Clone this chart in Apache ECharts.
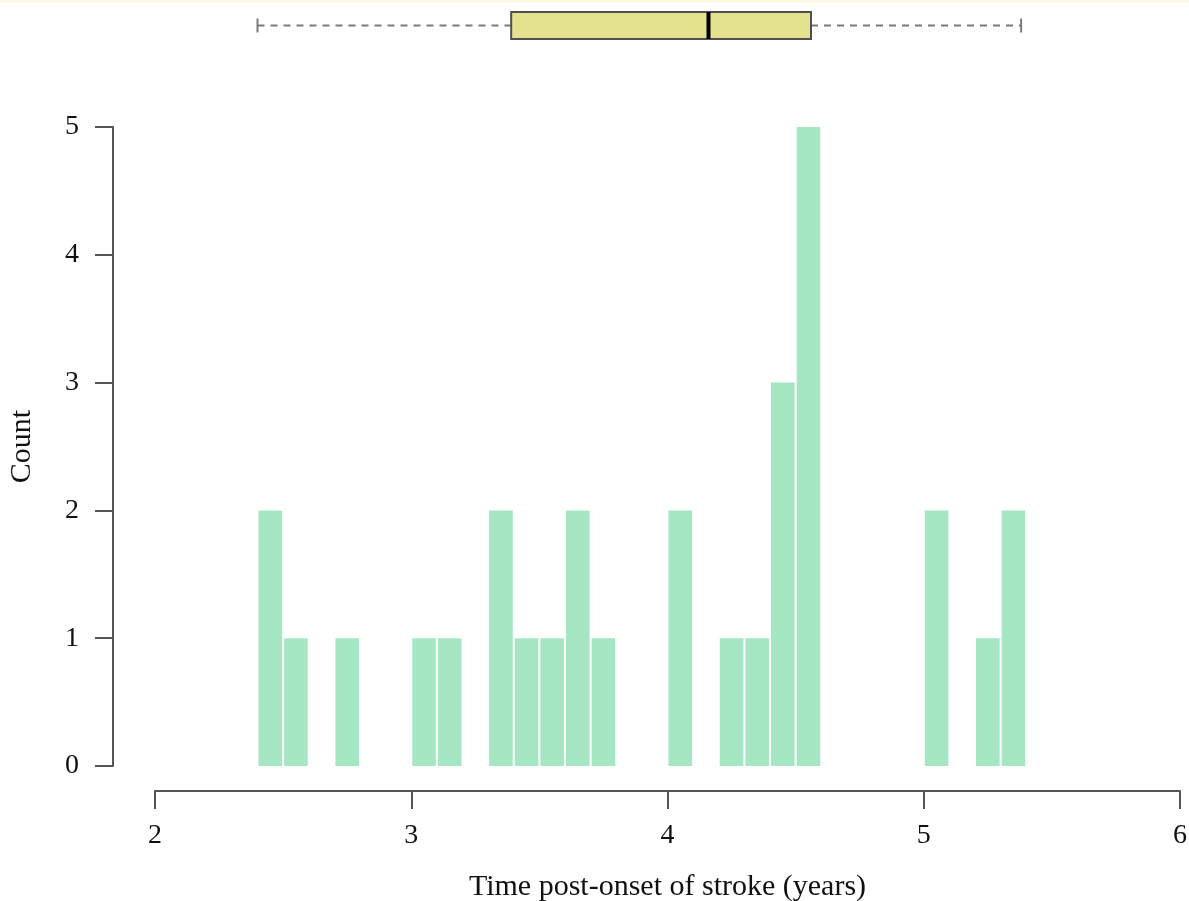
<!DOCTYPE html>
<html>
<head>
<meta charset="utf-8">
<script src="https://cdn.jsdelivr.net/npm/echarts@6/dist/echarts.min.js"></script>
<style>
html,body{margin:0;padding:0;background:#fff;}
#chart{width:1189px;height:901px;}
</style>
</head>
<body>
<div id="chart"></div>
<script>
// Histogram bins (lower edge, width 0.1 years) and counts
var binLow = [2.4, 2.5, 2.6, 2.7, 2.8, 2.9, 3.0, 3.1, 3.2, 3.3, 3.4, 3.5, 3.6, 3.7, 3.8, 3.9, 4.0, 4.1, 4.2, 4.3, 4.4, 4.5, 4.6, 4.7, 4.8, 4.9, 5.0, 5.1, 5.2, 5.3];
var counts = [2, 1, 0, 1, 0, 0, 1, 1, 0, 2, 1, 1, 2, 1, 0, 0, 2, 0, 1, 1, 3, 5, 0, 0, 0, 0, 2, 0, 1, 2];
var binWidth = 0.1;
// Box plot summary: lower whisker, Q1, median, Q3, upper whisker
var boxStats = [2.40, 3.39, 4.16, 4.56, 5.38];
var xTicks = [2, 3, 4, 5, 6];
var yTicks = [0, 1, 2, 3, 4, 5];

var font = '"Liberation Serif", "Times New Roman", serif';
var axisCol = '#555555';

var histData = binLow.map(function (b, i) { return [b, b + binWidth, counts[i]]; });

var chart = echarts.init(document.getElementById('chart'));
chart.setOption({
  animation: false,
  backgroundColor: '#ffffff',
  graphic: [{
    type: 'rect', left: 0, top: 0, shape: { x: 0, y: 0, width: 1189, height: 3 },
    style: { fill: '#fdf7e3' }, silent: true
  }],
  grid: [
    { left: 155, right: 9, top: 127, bottom: 135, containLabel: false, outerBoundsMode: 'none' },
    { left: 155, right: 9, top: 12, height: 27, containLabel: false, outerBoundsMode: 'none' }
  ],
  xAxis: [{
    gridIndex: 0, type: 'value', min: xTicks[0], max: xTicks[xTicks.length - 1], interval: 1,
    offset: 25,
    axisLine: { show: true, onZero: false, lineStyle: { color: axisCol, width: 2 } },
    axisTick: { show: true, length: 18, lineStyle: { color: axisCol, width: 2 } },
    axisLabel: { color: '#111', fontFamily: font, fontSize: 28, margin: 31 },
    splitLine: { show: false },
    name: 'Time post-onset of stroke (years)', nameLocation: 'middle', nameGap: 81,
    nameTextStyle: { color: '#111', fontFamily: font, fontSize: 30 }
  }, {
    gridIndex: 1, type: 'value', min: xTicks[0], max: xTicks[xTicks.length - 1],
    show: false
  }],
  yAxis: [{
    gridIndex: 0, type: 'value', min: yTicks[0], max: yTicks[yTicks.length - 1], interval: 1,
    offset: 42,
    axisLine: { show: true, onZero: false, lineStyle: { color: axisCol, width: 2 } },
    axisTick: { show: true, length: 18, lineStyle: { color: axisCol, width: 2 } },
    axisLabel: { color: '#111', fontFamily: font, fontSize: 28, margin: 34 },
    splitLine: { show: false },
    name: 'Count', nameLocation: 'middle', nameGap: 76,
    nameTextStyle: { color: '#111', fontFamily: font, fontSize: 30 }
  }, {
    gridIndex: 1, type: 'value', min: 0, max: 1, show: false
  }],
  series: [{
    type: 'custom',
    xAxisIndex: 0, yAxisIndex: 0,
    data: histData,
    renderItem: function (params, api) {
      var c = api.value(2);
      if (!c) return null;
      var p0 = api.coord([api.value(0), 0]);
      var p1 = api.coord([api.value(1), c]);
      return {
        type: 'rect',
        shape: { x: p0[0] + 1, y: p1[1], width: p1[0] - p0[0] - 2, height: p0[1] - p1[1] },
        style: { fill: '#a5e6c3' }
      };
    }
  }, {
    type: 'custom',
    xAxisIndex: 1, yAxisIndex: 1,
    data: [boxStats],
    renderItem: function (params, api) {
      var lo = api.coord([api.value(0), 0.5]);
      var q1 = api.coord([api.value(1), 1]);
      var md = api.coord([api.value(2), 0]);
      var q3 = api.coord([api.value(3), 0]);
      var hi = api.coord([api.value(4), 0.5]);
      var cy = lo[1];
      var top = q1[1], bot = q3[1];
      var capH = 7;
      var dash = { stroke: '#7a7a7a', lineWidth: 2, lineDash: [7, 6] };
      return {
        type: 'group',
        children: [
          { type: 'line', shape: { x1: lo[0], y1: cy, x2: q1[0], y2: cy }, style: dash },
          { type: 'line', shape: { x1: q3[0], y1: cy, x2: hi[0], y2: cy }, style: dash },
          { type: 'line', shape: { x1: lo[0], y1: cy - capH, x2: lo[0], y2: cy + capH }, style: { stroke: '#7a7a7a', lineWidth: 2 } },
          { type: 'line', shape: { x1: hi[0], y1: cy - capH, x2: hi[0], y2: cy + capH }, style: { stroke: '#7a7a7a', lineWidth: 2 } },
          { type: 'rect', shape: { x: q1[0], y: top, width: q3[0] - q1[0], height: bot - top }, style: { fill: '#e4e18f', stroke: '#505050', lineWidth: 2 } },
          { type: 'line', shape: { x1: md[0], y1: top, x2: md[0], y2: bot }, style: { stroke: '#000', lineWidth: 4 } }
        ]
      };
    }
  }]
});
</script>
</body>
</html>
